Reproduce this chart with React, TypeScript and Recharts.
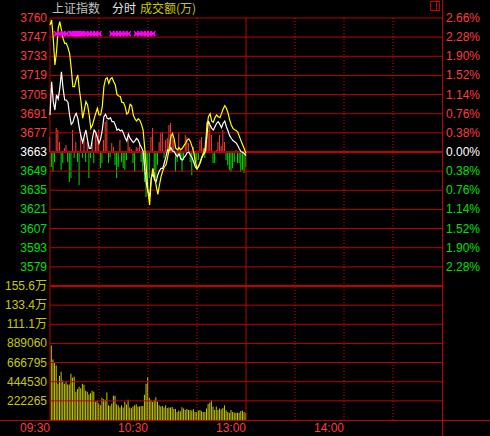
import { ComposedChart, Line, Bar, Cell, Scatter, XAxis, YAxis, ReferenceLine } from 'recharts';

// 上证指数 分时图 (morning session only)
const PREV_CLOSE = 3663;

// one point per minute from 09:30
const indexLine = [
  3689.9, 3714.1, 3699.6, 3693.5, 3704.5, 3701.5, 3709.3, 3721.4, 3709.3, 3700.8,
  3700.8, 3699.1, 3689.9, 3683.1, 3684.6, 3688.7, 3691.1, 3687.5, 3680.2, 3674.2,
  3670.0, 3674.9, 3679.0, 3671.7, 3665.7, 3665.7, 3673.0, 3679.0, 3677.3, 3673.4,
  3669.3, 3672.5, 3679.0, 3688.7, 3690.4, 3687.5, 3687.0, 3688.0, 3685.1, 3685.1,
  3682.6, 3679.0, 3679.7, 3678.3, 3679.0, 3676.6, 3673.4, 3671.0, 3675.9, 3673.0,
  3671.5, 3669.8, 3671.0, 3673.0, 3671.7, 3668.6, 3666.2, 3663.7, 3651.1, 3640.2,
  3634.2, 3630.5, 3643.9, 3647.5, 3642.7, 3641.5, 3646.3, 3649.4, 3651.1, 3651.1,
  3655.2, 3659.6, 3664.5, 3664.0, 3666.2, 3663.7, 3663.2, 3661.3, 3659.6, 3661.8,
  3658.4, 3657.2, 3658.9, 3660.3, 3662.5, 3662.8, 3660.8, 3658.9, 3655.5, 3652.1,
  3650.6, 3652.8, 3655.2, 3658.9, 3661.3, 3663.2, 3674.2, 3685.5, 3682.6, 3680.2,
  3679.0, 3681.4, 3683.9, 3685.1, 3683.1, 3680.7, 3683.9, 3685.5, 3681.4, 3678.3,
  3674.9, 3673.0, 3671.3, 3670.5, 3669.6, 3667.6, 3665.2, 3663.2, 3662.8, 3661.8,
  3660.3,
];

// 不含加权 (yellow line)
const leadLine = [
  3755.3, 3759.0, 3745.6, 3726.3, 3735.9, 3752.9, 3757.8, 3751.7, 3745.6, 3742.0,
  3742.0, 3738.9, 3734.7, 3723.8, 3710.5, 3710.5, 3715.4, 3719.0, 3708.1, 3699.6,
  3687.5, 3693.5, 3699.6, 3697.2, 3689.9, 3680.2, 3682.6, 3687.0, 3691.1, 3694.8,
  3689.9, 3689.9, 3696.0, 3710.5, 3716.1, 3717.0, 3712.9, 3716.1, 3717.0, 3714.1,
  3711.7, 3704.9, 3703.7, 3703.5, 3699.1, 3698.9, 3696.0, 3690.6, 3691.8, 3697.7,
  3696.7, 3689.9, 3687.0, 3685.5, 3687.2, 3686.0, 3683.1, 3679.0, 3665.7, 3651.1,
  3634.2, 3624.5, 3643.9, 3651.1, 3645.1, 3638.5, 3632.2, 3639.0, 3645.1, 3649.2,
  3652.3, 3653.6, 3658.9, 3665.7, 3674.2, 3676.6, 3672.5, 3665.7, 3664.5, 3666.2,
  3664.5, 3665.7, 3667.6, 3669.3, 3671.7, 3672.5, 3670.5, 3666.9, 3662.8, 3656.0,
  3651.1, 3652.3, 3656.0, 3659.6, 3662.5, 3666.2, 3680.2, 3688.7, 3690.9, 3685.5,
  3684.6, 3688.0, 3689.9, 3688.7, 3688.0, 3690.9, 3694.3, 3696.7, 3694.8, 3691.4,
  3686.3, 3682.6, 3680.2, 3679.2, 3678.7, 3677.3, 3674.2, 3671.0, 3668.1, 3665.2,
  3662.0,
];

// buy/sell strength bars around the previous close
const powerBars = [
  15, -15, -20, -10, 24, 22, 10, -18, -11, 4,
  7, -10, -30, -26, 22, -6, 10, -10, -33, 17,
  -6, 14, -10, 10, -26, -6, 10, -11, 20, 17,
  22, -16, -11, 12, 30, 32, -11, -5, 9, 5,
  -13, -26, -15, 12, -10, -16, -18, -8, 14, 5,
  3, -11, -20, 5, 4, 9, -10, -20, -30, -45,
  -36, -26, 15, 24, -23, -26, -13, 10, 19, 20,
  -6, 12, 14, 27, 29, 17, 12, -20, -10, 19,
  -8, -20, -8, 17, 15, 9, -10, -23, 5, -13,
  -10, -8, 12, 15, 4, -6, 30, 22, 27, 17,
  -11, -11, 2, 10, 17, 6, 22, 10, -8, -13,
  -18, -20, -16, -10, 2, -11, -11, -20, -18, -21,
  -15,
];

// 成交额(万), minutes 1..120
const amounts = [
  866000, 702000, 663000, 632000, 421000, 515000, 561000, 460000, 421000, 445000,
  413000, 413000, 538000, 491000, 503000, 328000, 360000, 386000, 370000, 421000,
  409000, 339000, 328000, 296000, 312000, 339000, 328000, 211000, 222000, 195000,
  172000, 257000, 242000, 234000, 320000, 172000, 164000, 190000, 281000, 281000,
  184000, 167000, 144000, 172000, 144000, 211000, 180000, 234000, 144000, 137000,
  156000, 172000, 184000, 156000, 156000, 164000, 164000, 292000, 421000, 499000,
  257000, 234000, 211000, 234000, 265000, 211000, 172000, 156000, 164000, 144000,
  172000, 140000, 144000, 144000, 152000, 129000, 129000, 94000, 109000, 101000,
  148000, 133000, 117000, 129000, 117000, 117000, 110000, 125000, 94000, 94000,
  109000, 117000, 101000, 94000, 94000, 133000, 187000, 203000, 230000, 156000,
  117000, 156000, 117000, 133000, 125000, 140000, 172000, 113000, 94000, 85000,
  117000, 94000, 85000, 85000, 85000, 85000, 105000, 109000, 94000, 81000,
];

// minutes with a signal mark
const signalMinutes = [
  4, 6, 8, 10, 13, 14, 15, 16, 17, 18, 19, 20, 22, 24, 26, 28, 30,
  38, 40, 42, 44, 46, 48, 53, 55, 57, 59, 61, 63,
];
const SIGNAL_LEVEL = 3749;

// axis ticks
const pctSteps = [2.66, 2.28, 1.9, 1.52, 1.14, 0.76, 0.38, 0, -0.38, -0.76, -1.14, -1.52, -1.9, -2.28];
const priceLabels = ['3760', '3747', '3733', '3719', '3705', '3691', '3677', '3663', '3649', '3635', '3621', '3607', '3593', '3579'];
const volTicks = [222265, 444530, 666795, 889060, 1111325, 1333590, 1555855];
const timeTicks = [0, 60, 120, 180];
const timeLabels = ['09:30', '10:30', '13:00', '14:00'];
const gridMinutes = [30, 60, 90, 150, 180, 210];

const RED = '#ff3c3c';
const GREEN = '#00e000';
const GRID = '#c00000';
const OLIVE = '#c8c800';
const FONT = '"Liberation Sans", Arial, "Noto Sans CJK SC", sans-serif';

const priceTicks = pctSteps.map(p => PREV_CLOSE * (1 + p / 100));
const priceDomain = [PREV_CLOSE * (1 - 0.0266), PREV_CLOSE * (1 + 0.0266)];
const VOL_MAX = volTicks[volTicks.length - 1];

const rows = indexLine.map((v, i) => ({
  minute: i,
  index: v,
  lead: leadLine[i],
  power: powerBars[i],
  amount: i > 0 ? amounts[i - 1] : null,
}));
const signalRows = signalMinutes.map(m => ({ minute: m, v: SIGNAL_LEVEL }));

const pctColor = (p: number) => (p > 0 ? RED : p < 0 ? GREEN : '#ffffff');
const tickIdx = (v: number) => priceTicks.findIndex(t => Math.abs(t - v) < 1e-6);

const PriceTick = (props: any) => {
  const i = tickIdx(props.payload.value);
  if (i < 0) return null;
  return (
    <text x={props.x} y={props.y} dy={4} textAnchor="end" fill={pctColor(pctSteps[i])} fontSize={12} fontFamily={FONT}>
      {priceLabels[i]}
    </text>
  );
};

const PctTick = (props: any) => {
  const i = tickIdx(props.payload.value);
  if (i < 0) return null;
  return (
    <text x={props.x} y={props.y} dy={4} textAnchor="start" fill={pctColor(pctSteps[i])} fontSize={12} fontFamily={FONT}>
      {Math.abs(pctSteps[i]).toFixed(2) + '%'}
    </text>
  );
};

const volText = (v: number) => (v >= 1000000 ? (v / 10000).toFixed(1) + '万' : String(v));

const VolTick = (props: any) => (
  <text x={props.x} y={props.y} dy={4} textAnchor={props.orientation === 'right' ? 'start' : 'end'} fill={OLIVE} fontSize={12} fontFamily={FONT}>
    {volText(props.payload.value)}
  </text>
);

const TimeTick = (props: any) => {
  const i = timeTicks.indexOf(props.payload.value);
  return (
    <text x={props.x} y={props.y} dy={12} textAnchor="end" fill={RED} fontSize={12} fontFamily={FONT}>
      {timeLabels[i]}
    </text>
  );
};

// small magenta cross used for the signal marks
const SignalMark = (props: any) => {
  const { cx, cy } = props;
  return (
    <path
      d={`M${cx - 2.5},${cy - 2.5}L${cx + 2.5},${cy + 2.5}M${cx - 2.5},${cy + 2.5}L${cx + 2.5},${cy - 2.5}M${cx - 2},${cy}L${cx + 2},${cy}`}
      stroke="#ff00ff"
      strokeWidth={1.5}
      fill="none"
    />
  );
};

export default function App() {
  return (
    <div style={{ position: 'absolute', left: 0, top: 0, width: 490, height: 436, background: '#000', overflow: 'hidden' }}>
      {/* price panel */}
      <div style={{ position: 'absolute', left: 0, top: 0 }}>
        <ComposedChart width={490} height={286} data={rows} margin={{ top: 18, right: 0, bottom: 0, left: 0 }}>
          <XAxis dataKey="minute" type="number" domain={[0, 240]} hide />
          <YAxis
            yAxisId="p"
            domain={priceDomain}
            ticks={priceTicks}
            interval={0}
            width={50}
            tickLine={false}
            axisLine={false}
            tickSize={0}
            tickMargin={3}
            tick={PriceTick}
            allowDataOverflow
          />
          <YAxis
            yAxisId="pct"
            orientation="right"
            domain={priceDomain}
            ticks={priceTicks}
            interval={0}
            width={48}
            tickLine={false}
            axisLine={false}
            tickSize={0}
            tickMargin={4}
            tick={PctTick}
            allowDataOverflow
          />
          <YAxis yAxisId="pw" domain={[-134, 134]} hide />

          {priceTicks.map((t, i) => (
            <ReferenceLine key={'h' + i} yAxisId="p" y={t} stroke={GRID} strokeWidth={pctSteps[i] === 0 ? 2 : 1} />
          ))}
          {gridMinutes.map(m => (
            <ReferenceLine key={'v' + m} yAxisId="p" x={m} stroke="#e00000" strokeDasharray="1 2" />
          ))}
          <ReferenceLine yAxisId="p" x={0} stroke={GRID} />
          <ReferenceLine yAxisId="p" x={120} stroke={GRID} />

          <Bar yAxisId="pw" dataKey="power" barSize={1} isAnimationActive={false}>
            {rows.map((r, i) => (
              <Cell key={i} fill={r.power >= 0 ? RED : GREEN} />
            ))}
          </Bar>
          <Line yAxisId="p" dataKey="index" stroke="#ffffff" strokeWidth={1.2} dot={false} activeDot={false} isAnimationActive={false} />
          <Line yAxisId="p" dataKey="lead" stroke="#ffff00" strokeWidth={1.2} dot={false} activeDot={false} isAnimationActive={false} />
          <Scatter yAxisId="p" data={signalRows} dataKey="v" shape={SignalMark} isAnimationActive={false} />
        </ComposedChart>
      </div>

      {/* amount panel */}
      <div style={{ position: 'absolute', left: 0, top: 268 }}>
        <ComposedChart width={490} height={168} data={rows} margin={{ top: 18, right: 0, bottom: 0, left: 0 }}>
          <XAxis
            dataKey="minute"
            type="number"
            domain={[0, 240]}
            ticks={timeTicks}
            interval={0}
            height={16}
            tickLine={false}
            axisLine={false}
            tickSize={0}
            tickMargin={0}
            tick={TimeTick}
          />
          <YAxis
            yAxisId="v"
            domain={[0, VOL_MAX]}
            ticks={volTicks}
            interval={0}
            width={50}
            tickLine={false}
            axisLine={false}
            tickSize={0}
            tickMargin={3}
            tick={VolTick}
          />
          <YAxis
            yAxisId="v2"
            orientation="right"
            domain={[0, VOL_MAX]}
            ticks={volTicks}
            interval={0}
            width={48}
            tickLine={false}
            axisLine={false}
            tickSize={0}
            tickMargin={4}
            tick={VolTick}
          />
          {volTicks.map(t => (
            <ReferenceLine key={'vh' + t} yAxisId="v" y={t} stroke={GRID} strokeWidth={t === VOL_MAX ? 2 : 1} />
          ))}
          {gridMinutes.map(m => (
            <ReferenceLine key={'vv' + m} yAxisId="v" x={m} stroke="#e00000" strokeDasharray="1 2" />
          ))}
          <ReferenceLine yAxisId="v" x={0} stroke={GRID} />
          <ReferenceLine yAxisId="v" x={120} stroke={GRID} />
          <Bar yAxisId="v" dataKey="amount" fill={OLIVE} barSize={1} isAnimationActive={false} />
        </ComposedChart>
      </div>

      {/* frame, header */}
      <svg width={490} height={436} style={{ position: 'absolute', left: 0, top: 0, pointerEvents: 'none' }}>
        <line x1={0} y1={420.5} x2={490} y2={420.5} stroke={GRID} />
        <line x1={442.5} y1={0} x2={442.5} y2={436} stroke={GRID} />
        <rect x={430.5} y={1.5} width={9} height={9} fill="none" stroke={GRID} />
        <line x1={436.5} y1={1.5} x2={436.5} y2={10.5} stroke={GRID} />
        <g fontSize={12} fontFamily='"Noto Sans CJK SC", sans-serif'>
          <text x={52} y={12.5} fill="#c0c0c0">上证指数</text>
          <text x={112} y={12.5} fill="#e0e0e0">分时</text>
          <text x={140} y={12.5} fill={OLIVE}>成交额(万)</text>
        </g>
      </svg>
    </div>
  );
}
